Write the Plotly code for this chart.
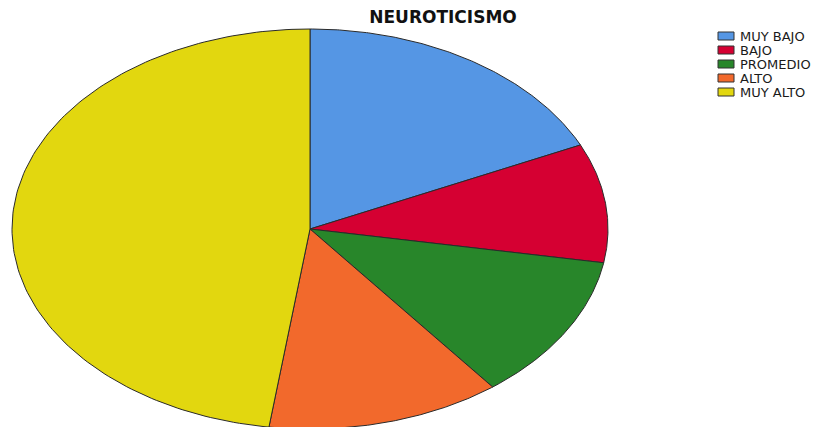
import numpy as np
import plotly.graph_objects as go

# Slice shares (percent), read clockwise from 12 o'clock
categories = ["MUY BAJO", "BAJO", "PROMEDIO", "ALTO", "MUY ALTO"]
percentages = [18.1, 9.6, 11.8, 12.7, 47.8]
colors = ["#5596E4", "#D50032", "#28862A", "#F2692C", "#E2D70F"]

OFF = 8                # page body margin
W, H = 828 - OFF, 427 - OFF
cx, cy = 310 - OFF, 229 - OFF   # pie centre (pixels from figure top-left)
rx, ry = 298, 200               # the pie is stretched horizontally

fig = go.Figure()

shares = np.array(percentages) / sum(percentages) * 2 * np.pi
ends = np.cumsum(shares)
starts = ends - shares

for cat, p, col, s, e in zip(categories, percentages, colors, starts, ends):
    t = np.linspace(s, e, 150)
    xs = np.concatenate([[0], rx * np.sin(t), [0]])
    ys = np.concatenate([[0], ry * np.cos(t), [0]])
    fig.add_trace(go.Scatter(
        x=xs, y=ys, mode="lines", fill="toself", fillcolor=col,
        line=dict(color="#2a2a2a", width=1),
        name=cat, showlegend=False,
        hoveron="fills", hoverinfo="text", text=f"{cat}: {p}%"
    ))

# legend drawn as keys + labels, one row per category
for i, (cat, col) in enumerate(zip(categories, colors)):
    yc = 36 - OFF + 14 * i
    fig.add_shape(type="rect", xref="x", yref="y",
                  x0=718 - OFF - cx, x1=734 - OFF - cx,
                  y0=cy - (yc - 4), y1=cy - (yc + 4),
                  fillcolor=col, line=dict(color="#333333", width=1))
    fig.add_annotation(x=738 - OFF - cx, y=cy - yc, xref="x", yref="y",
                       text=cat, showarrow=False, xanchor="left", yanchor="middle",
                       font=dict(family="DejaVu Sans", size=13, color="#1a1a1a"))

fig.update_layout(
    title=dict(text="<b>NEUROTICISMO</b>", x=(443 - OFF) / W, y=1 - (17 - OFF) / H,
               xanchor="center", yanchor="middle",
               font=dict(family="DejaVu Sans", size=17, color="#111111")),
    width=W, height=H,
    margin=dict(l=0, r=0, t=0, b=0),
    paper_bgcolor="white", plot_bgcolor="white",
    xaxis=dict(range=[-cx, W - cx], visible=False, fixedrange=True),
    yaxis=dict(range=[-(H - cy), cy], visible=False, fixedrange=True),
    showlegend=False,
)

fig.write_html("out.html")
